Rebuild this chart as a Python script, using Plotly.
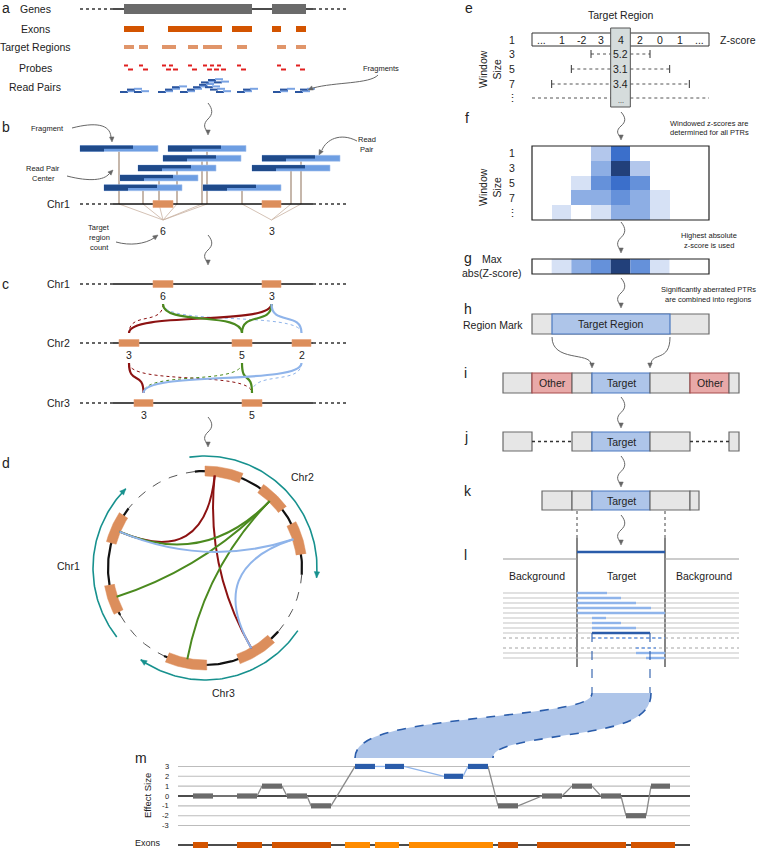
import numpy as np
import plotly.graph_objects as go

FONT = "Liberation Sans, Arial, Helvetica, sans-serif"
TXT = "#222222"

# ============================ DATA ============================
# panel a
ROW_LABELS_A = ["Genes", "Exons", "Target Regions", "Probes", "Read Pairs"]
GENE_BLOCKS = [(124, 252), (272, 306)]
EXONS_A = [(124, 144), (168, 222), (232, 252), (272, 281), (296, 306)]
TARGETS_A = [(124, 134), (139, 148), (162, 176), (188, 198), (203, 222), (237, 247), (277, 286), (296, 306)]
PROBES_A = [124, 139, 162, 169, 188, 203, 210, 217, 237, 277, 296]
READS_A_X = [120, 127, 134, 158, 165, 172, 180, 187, 193, 199, 205, 210, 216, 201, 208, 214, 237, 243, 273, 280, 295, 300]
READS_A_LVL = [0, 1, 0, 0, 1, 2, 0, 1, 2, 3, 2, 1, 0, 4, 5, 4, 0, 1, 0, 1, 0, 1]

# panel b
FRAG_B_X0 = [80, 168, 163, 262, 138, 252, 120, 104, 203]
FRAG_B_ROW = [0, 0, 1, 1, 2, 2, 3, 4, 4]
TARGETS_CHR1 = [(153, 173), (262, 281)]

# panel c
CHROMS = ["Chr1", "Chr2", "Chr3"]
TARGETS_C = {"Chr1": [(153, 173), (262, 281)],
             "Chr2": [(119, 139), (232, 252), (292, 311)],
             "Chr3": [(134, 153), (242, 262)]}
COUNTS_C = {"Chr1": [6, 3], "Chr2": [3, 5, 2], "Chr3": [3, 5]}
LINKS_C = [("Chr1", 0, "Chr2", 0, "red", "dot"), ("Chr1", 0, "Chr2", 2, "blue", "dot"),
           ("Chr1", 1, "Chr2", 0, "red", "solid"), ("Chr1", 0, "Chr2", 1, "green", "solid"),
           ("Chr1", 1, "Chr2", 1, "green", "solid"), ("Chr1", 1, "Chr2", 2, "blue", "solid"),
           ("Chr2", 0, "Chr3", 1, "red", "dot"), ("Chr2", 1, "Chr3", 0, "green", "dot"),
           ("Chr2", 2, "Chr3", 1, "blue", "dot"),
           ("Chr2", 0, "Chr3", 0, "red", "solid"), ("Chr2", 1, "Chr3", 1, "green", "solid"),
           ("Chr2", 2, "Chr3", 0, "blue", "solid")]

# panel d (angles in degrees)
CHR_ARCS_D = {"Chr1": (142, 209), "Chr2": (-4, 96), "Chr3": (245, 319)}
GAPS_D = [(96, 142), (209, 245), (319, 356)]
BOXES_D = [(68, 90), (37, 55), (8, 27), (147, 165), (190, 207), (247, 271), (290, 313)]
BOX_ANCHOR_D = [84, 46, 18, 157, 198, 259, 300]
LINKS_D = [(0, 3, "red"), (0, 6, "red"), (1, 3, "green"), (1, 4, "green"), (1, 5, "green"),
           (3, 2, "blue"), (2, 6, "blue")]
TEAL_ARCS_D = [(218, 135), (98, -5), (326, 235)]

# panel e
ZSCORES = ["...", "1", "-2", "3", "4", "2", "0", "1", "..."]
WINDOW_LABELS = ["1", "3", "5", "7", "\u22ee"]
WINDOW_SIZES = [3, 5, 7]
WINDOW_Z = ["5.2", "3.1", "3.4", "..."]

# panel f (binned absolute windowed z-score levels, rows = window sizes)
HEAT_F = [[0, 0, 0, 2, 5, 0, 0, 0, 0],
          [0, 0, 0, 3, 6, 2, 0, 0, 0],
          [0, 0, 1, 4, 5, 4, 0, 0, 0],
          [0, 0, 3, 3, 4, 3, 1, 0, 0],
          [0, 1, 0, 1, 3, 3, 1, 0, 0]]
HEAT_COLORS = ["#ffffff", "#d6e1f5", "#b3c7ec", "#8daee4", "#6591da", "#3b6fcb", "#22407a"]

# panel l
L_ROWS_Y = [593, 598, 603, 608, 613, 618, 623, 628, 633, 638, 648, 653, 658]
L_ROWS_DOT = [0, 0, 0, 0, 0, 0, 0, 0, 0, 1, 1, 0, 0]
L_BLUE = [(577, 607, "l"), (577, 621, "l"), (577, 636, "l"), (577, 651, "l"), (577, 665, "l"),
          (592, 606, "l"), (592, 621, "l"), (592, 636, "l"), (592, 650, "d"), (592, 665, "dot"),
          (636, 656, "dot"), (636, 665, "l"), (646, 665, "l")]

# panel m
SEG_START = [193, 237, 262, 287, 311, 355, 385, 444, 468, 498, 542, 572, 601, 626, 651]
SEG_END = [213, 257, 282, 307, 331, 375, 404, 463, 488, 518, 562, 592, 621, 646, 670]
EFFECT = [0, 0, 1, 0, -1, 3, 3, 2, 3, -1, 0, 1, 0, -2, 1]
SIGNIF = [0, 0, 0, 0, 0, 1, 1, 1, 1, 0, 0, 0, 0, 0, 0]
EFFECT_TICKS = [3, 2, 1, 0, -1, -2, -3]
EXONS_M = [(193, 208, 0), (237, 262, 0), (272, 331, 0), (345, 370, 1), (375, 399, 1),
           (409, 493, 1), (498, 518, 0), (537, 626, 0), (631, 675, 0)]

# ============================ HELPERS ============================
shapes, annos, traces = [], [], []
COL = {"red": "#8c1212", "green": "#4b8a1f", "blue": "#8fb4ea"}


def rect(x0, x1, y0, y1, fill, line=None, lw=0):
    shapes.append(dict(type="rect", x0=x0, x1=x1, y0=y0, y1=y1, fillcolor=fill,
                       line=dict(color=line or fill, width=lw)))


def seg(x0, y0, x1, y1, color, width=1.0, dash="solid"):
    shapes.append(dict(type="line", x0=x0, y0=y0, x1=x1, y1=y1,
                       line=dict(color=color, width=width, dash=dash)))


def path(d, color, width=1.0, dash="solid", fill=None):
    s = dict(type="path", path=d, line=dict(color=color, width=width, dash=dash))
    if fill:
        s["fillcolor"] = fill
    shapes.append(s)


def text(x, y, s, size=10.5, xa="center", ya="middle", color=TXT, angle=0):
    annos.append(dict(x=x, y=y, text=s, showarrow=False, xanchor=xa, yanchor=ya,
                      textangle=angle, font=dict(family=FONT, size=size, color=color)))


def head(xt, yt, dx, dy, size=5.0, color="#555555"):
    n = np.hypot(dx, dy)
    dx, dy = dx / n, dy / n
    bx, by = xt - dx * size, yt - dy * size
    px, py = -dy * size * 0.45, dx * size * 0.45
    path(f"M {xt},{yt} L {bx+px},{by+py} L {bx-px},{by-py} Z", color, 0.5, fill=color)


def wavy(x, y0, y1):
    h = y1 - y0
    path(f"M {x},{y0} C {x+5},{y0+0.2*h} {x+5},{y0+0.35*h} {x},{y0+0.5*h} "
         f"C {x-5},{y0+0.65*h} {x-4},{y0+0.8*h} {x},{y1-3}", "#666666", 1)
    head(x, y1, 0, 1, 5, "#666666")


def curved(d, tip, direction):
    path(d, "#666666", 1)
    head(tip[0], tip[1], direction[0], direction[1], 5, "#666666")


def polyline(xs, ys, color, width, dash="solid"):
    traces.append(go.Scatter(x=list(xs), y=list(ys), mode="lines", hoverinfo="skip",
                             line=dict(color=color, width=width, dash=dash)))


# ============================ PANEL LETTERS ============================
for lt, x, y in [("a", 0, 8), ("b", 0, 127), ("c", 0, 284), ("d", 0, 463), ("e", 463, 8),
                 ("f", 463, 118), ("g", 462, 258), ("h", 462, 309), ("i", 462, 373),
                 ("j", 462, 437), ("k", 462, 491), ("l", 462, 555), ("m", 133, 758)]:
    text(x, y, lt, 14, xa="left")

# ============================ PANEL a ============================
ROW_Y_A = [9, 29, 47, 68, 87]
for lab, y in zip(ROW_LABELS_A, ROW_Y_A):
    text(35, y, lab, 10.5)
seg(80, 9, 113, 9, "#333333", 1.3, "dot")
seg(113, 9, 313, 9, "#111111", 1.3)
seg(313, 9, 346, 9, "#333333", 1.3, "dot")
for a, b in GENE_BLOCKS:
    rect(a, b, 4, 14, "#6b6b6b")
for a, b in EXONS_A:
    rect(a, b, 26, 32, "#d35400")
for a, b in TARGETS_A:
    rect(a, b, 45, 49, "#e0956a")
for x in PROBES_A:
    rect(x, x + 4, 64.5, 66.5, "#e02020")
    rect(x + 4, x + 9, 68.5, 70.5, "#e02020")
for x, lv in zip(READS_A_X, READS_A_LVL):
    y = 92 - lv * 2.4
    rect(x, x + 8, y - 1, y + 1, "#2b56a0")
    rect(x + 7, x + 15, y - 1.8, y + 0.2, "#7aa3e3")
text(381, 68, "Fragments", 7.5)
curved("M 378,75 C 370,84 335,82 313,88", (308, 90), (-1, 0.45))

# ============================ PANEL b ============================
wavy(208, 103, 135)
text(47, 128, "Fragment", 7.5)
curved("M 72,128 C 95,122 110,124 111,137", (112, 142), (0.05, 1))
text(43, 168, "Read Pair", 7.5)
text(43, 178, "Center", 7.5)
curved("M 67,176 C 90,182 104,180 109,174", (113, 170), (0.8, -0.8))
text(367, 139, "Read", 7.5)
text(367, 149, "Pair", 7.5)
curved("M 357,141 C 340,132 326,140 322,150", (319, 155), (-0.5, 1))
text(99, 227, "Target", 7.5)
text(99, 237, "region", 7.5)
text(99, 247, "count", 7.5)
curved("M 116,242 C 130,246 145,244 154,238", (158, 235), (1, -0.7))

CHR1_Y_B = 204
tcent = [(a + b) / 2 for a, b in TARGETS_CHR1]
counts_b = [0] * len(TARGETS_CHR1)
frag_centers = []
for x0, r in zip(FRAG_B_X0, FRAG_B_ROW):
    y = 148.5 + r * 9.8
    cx = x0 + 39
    frag_centers.append(cx)
    seg(cx, y + 3, cx, CHR1_Y_B, "#b8a596", 1.6)
for cx in frag_centers:
    k = int(np.argmin([abs(cx - t) for t in tcent]))
    counts_b[k] += 1
    seg(cx, CHR1_Y_B, tcent[k], 220, "#c9b3a2", 0.8)
seg(80, CHR1_Y_B, 113, CHR1_Y_B, "#333333", 1.3, "dot")
seg(113, CHR1_Y_B, 313, CHR1_Y_B, "#111111", 1.5)
seg(313, CHR1_Y_B, 346, CHR1_Y_B, "#333333", 1.3, "dot")
for a, b in TARGETS_CHR1:
    rect(a, b, CHR1_Y_B - 3.5, CHR1_Y_B + 3.5, "#dc8e5c", "#eaa37a", 0.6)
for x0, r in zip(FRAG_B_X0, FRAG_B_ROW):
    y = 148.5 + r * 9.8
    rect(x0, x0 + 78, y - 3, y + 3, "#6e9ee2", "#a9c4ee", 0.6)
    rect(x0, x0 + 24, y - 3, y + 3, "#1f4a8a")
    rect(x0 + 24, x0 + 53, y - 3, y + 0.3, "#1f4a8a")
text(72, CHR1_Y_B, "Chr1", 10.5, xa="right")
for t, c in zip(tcent, counts_b):
    text(t, 231, str(c), 10.5)

# ============================ PANEL c ============================
wavy(208, 235, 265)
CHR_Y_C = {"Chr1": 284, "Chr2": 343, "Chr3": 403}
for ch in CHROMS:
    y = CHR_Y_C[ch]
    seg(80, y, 113, y, "#333333", 1.3, "dot")
    seg(113, y, 313, y, "#111111", 1.5)
    seg(313, y, 346, y, "#333333", 1.3, "dot")
    for (a, b), c in zip(TARGETS_C[ch], COUNTS_C[ch]):
        rect(a, b, y - 3.5, y + 3.5, "#dc8e5c", "#eaa37a", 0.6)
        text((a + b) / 2, y + 12, str(c), 10.5)
    text(72, y, ch, 10.5, xa="right")
for c1, i1, c2, i2, col, sty in LINKS_C:
    a, b = TARGETS_C[c1][i1]
    x1 = (a + b) / 2
    a, b = TARGETS_C[c2][i2]
    x2 = (a + b) / 2
    y1 = CHR_Y_C[c1] + 20
    y2 = CHR_Y_C[c2] - 10
    dy = y2 - y1
    d = f"M {x1},{y1} C {x1},{y1+0.75*dy} {x2},{y2-0.75*dy} {x2},{y2}"
    if sty == "dot":
        path(d, COL[col], 1.0, "dot")
    else:
        path(d, COL[col], 2.2)

# ============================ PANEL d ============================
wavy(208, 417, 447)
CX, CY, R = 205, 568, 97


def arcxy(a0, a1, r, n=80):
    th = np.radians(np.linspace(a0, a1, n))
    return CX + r * np.cos(th), CY - r * np.sin(th)


for a0, a1 in GAPS_D:
    xs, ys = arcxy(a0, a1, R)
    polyline(xs, ys, "#555555", 1, "dash")
for ch, (a0, a1) in CHR_ARCS_D.items():
    xs, ys = arcxy(a0, a1, R)
    polyline(xs, ys, "#111111", 2.2)
for (i, j, col) in LINKS_D:
    ta, tb = np.radians(BOX_ANCHOR_D[i]), np.radians(BOX_ANCHOR_D[j])
    r = R - 4
    x1, y1 = CX + r * np.cos(ta), CY - r * np.sin(ta)
    x2, y2 = CX + r * np.cos(tb), CY - r * np.sin(tb)
    path(f"M {x1:.1f},{y1:.1f} Q {CX},{CY} {x2:.1f},{y2:.1f}", COL[col], 2.0)
for a0, a1 in BOXES_D:
    xo, yo = arcxy(a0, a1, R + 5, 30)
    xi, yi = arcxy(a1, a0, R - 5, 30)
    traces.append(go.Scatter(x=list(xo) + list(xi), y=list(yo) + list(yi), mode="lines",
                             fill="toself", fillcolor="#dc8e5c", hoverinfo="skip",
                             line=dict(color="#dc8e5c", width=0.5)))
for a0, a1 in TEAL_ARCS_D:
    xs, ys = arcxy(a0, a1, 112)
    polyline(xs, ys, "#17918e", 1.6)
    head(xs[-1], ys[-1], xs[-1] - xs[-3], ys[-1] - ys[-3], 6, "#17918e")
text(302, 477, "Chr2", 10.5)
text(68, 566, "Chr1", 10.5)
text(223, 693, "Chr3", 10.5)

# ============================ PANEL e ============================
EX0, EX1 = 532, 709
CW = (EX1 - EX0) / 9
colx = [EX0 + CW * (i + 0.5) for i in range(9)]
text(621, 15, "Target Region", 10.5)
rect(EX0, EX1, 33, 46, "white", "#333333", 1)
rect(EX0 + 4 * CW, EX0 + 5 * CW, 28, 107, "#d5dcdc", "#555555", 1)
for x, z in zip(colx, ZSCORES):
    text(x, 39.5, z, 10.5)
text(738, 40, "Z-score", 10.5)
for lab, y in zip(WINDOW_LABELS, [40, 54, 69, 84, 98]):
    text(512, y, lab, 10.5)
text(490, 69, "Window<br>Size", 10.5, angle=-90)
for w, y, z in zip(WINDOW_SIZES, [54, 69, 84], WINDOW_Z):
    half = (w - 1) // 2
    xl = EX0 + (4 - half) * CW
    xr = EX0 + (5 + half) * CW
    seg(xl, y, EX0 + 4 * CW, y, "#555555", 1, "dot")
    seg(EX0 + 5 * CW, y, xr, y, "#555555", 1, "dot")
    seg(xl, y - 4, xl, y + 4, "#333333", 1)
    seg(xr, y - 4, xr, y + 4, "#333333", 1)
    text(colx[4], y, z, 10.5)
seg(EX0, 98, EX0 + 4 * CW, 98, "#555555", 1, "dot")
seg(EX0 + 5 * CW, 98, EX1, 98, "#555555", 1, "dot")
text(colx[4], 100, WINDOW_Z[3], 7)
wavy(621, 112, 140)

# ============================ PANEL f ============================
text(709, 123, "Windowed z-scores are", 7.5)
text(709, 132, "determined for all PTRs", 7.5)
F_Y0, F_Y1 = 146, 220
RH = (F_Y1 - F_Y0) / 5
rowy = [F_Y0 + RH * (i + 0.5) for i in range(5)]
cscale = [[i / 6, c] for i, c in enumerate(HEAT_COLORS)]
traces.append(go.Heatmap(z=HEAT_F, x=colx, y=rowy, colorscale=cscale, zmin=0, zmax=6,
                         showscale=False, hoverinfo="skip"))
rect(EX0, EX1, F_Y0, F_Y1, "rgba(0,0,0,0)", "#222222", 1.2)
for lab, y in zip(WINDOW_LABELS, rowy):
    text(512, y, lab, 10.5)
text(490, 187, "Window<br>Size", 10.5, angle=-90)
wavy(621, 222, 253)

# ============================ PANEL g ============================
text(709, 235, "Highest absolute", 7.5)
text(709, 245, "z-score is used", 7.5)
text(492, 259, "Max", 10.5)
text(492, 273, "abs(Z-score)", 10.5)
max_abs = [max(col) for col in zip(*HEAT_F)]
for i, v in enumerate(max_abs):
    rect(EX0 + i * CW, EX0 + (i + 1) * CW, 259, 274, HEAT_COLORS[v])
rect(EX0, EX1, 259, 274, "rgba(0,0,0,0)", "#222222", 1.2)
wavy(621, 278, 308)

# ============================ PANEL h ============================
text(708, 289, "Significantly aberrated PTRs", 7.5)
text(708, 299, "are combined into regions", 7.5)
text(493, 325, "Region Mark", 10.5)
GRAY, GRAYL = "#e6e6e6", "#6a6a6a"
BLUEF, BLUEL = "#aec5e9", "#4a78c0"
REDF, REDL = "#e8a9a8", "#a64d4d"
rect(EX0, EX1, 314, 334, GRAY, GRAYL, 1.2)
rect(552, 670, 314, 334, BLUEF, BLUEL, 1.2)
text(611, 324, "Target Region", 10.5)
curved("M 552,337 C 552,362 590,352 591,364", (592, 368), (0, 1))
curved("M 670,337 C 670,362 652,352 651,364", (650, 368), (0, 1))

# ============================ PANEL i / j / k ============================
IY0, IY1 = 373, 393
for a, b, f, l in [(503, 532, GRAY, GRAYL), (532, 572, REDF, REDL), (572, 592, GRAY, GRAYL),
                   (592, 650, BLUEF, BLUEL), (650, 690, GRAY, GRAYL), (690, 729, REDF, REDL),
                   (729, 739, GRAY, GRAYL)]:
    rect(a, b, IY0, IY1, f, l, 1.2)
text(552, 383, "Other", 10.5)
text(710, 383, "Other", 10.5)
text(621, 383, "Target", 10.5)
wavy(621, 397, 428)

JY0, JY1 = 432, 451
for a, b, f, l in [(503, 532, GRAY, GRAYL), (572, 592, GRAY, GRAYL), (592, 650, BLUEF, BLUEL),
                   (650, 690, GRAY, GRAYL), (729, 739, GRAY, GRAYL)]:
    rect(a, b, JY0, JY1, f, l, 1.2)
seg(532, 441.5, 572, 441.5, "#333333", 1.3, "dot")
seg(690, 441.5, 729, 441.5, "#333333", 1.3, "dot")
text(621, 442, "Target", 10.5)
wavy(621, 456, 487)

KY0, KY1 = 491, 510
for a, b, f, l in [(542, 572, GRAY, GRAYL), (572, 592, GRAY, GRAYL), (592, 650, BLUEF, BLUEL),
                   (650, 690, GRAY, GRAYL), (690, 699, GRAY, GRAYL)]:
    rect(a, b, KY0, KY1, f, l, 1.2)
text(621, 501, "Target", 10.5)
seg(577, 511, 577, 538, "#444444", 1, "dot")
seg(665, 511, 665, 538, "#444444", 1, "dot")
wavy(621, 515, 545)

# ============================ PANEL l ============================
seg(577, 538, 577, 667, "#333333", 1.2)
seg(665, 538, 665, 667, "#333333", 1.2)
seg(577, 552, 665, 552, "#2a5caa", 2.5)
seg(503, 559, 577, 559, "#999999", 1.2)
seg(665, 559, 739, 559, "#999999", 1.2)
text(537, 576, "Background", 10.5)
text(621, 576, "Target", 10.5)
text(704, 576, "Background", 10.5)
for y, dt in zip(L_ROWS_Y, L_ROWS_DOT):
    if dt:
        seg(503, y, 739, y, "#999999", 0.9, "dot")
    else:
        seg(503, y, 739, y, "#c3c3c3", 1.1)
for y, (a, b, st) in zip(L_ROWS_Y, L_BLUE):
    if st == "l":
        seg(a, y, b, y, "#8fb4ea", 2.4)
    elif st == "d":
        seg(a, y, b, y, "#2a5caa", 2.4)
    else:
        seg(a, y, b, y, "#6f9de6", 1.6, "dot")

# ============================ PANEL m ============================
path("M 592,693 L 651,693 C 651,720 620,727 567,735 C 515,743 493,747 493,758 "
     "L 355,758 C 355,735 400,727 480,718 C 560,709 592,705 592,693 Z",
     "rgba(0,0,0,0)", 0, fill="#aec5e9")
path("M 355,758 C 355,735 400,727 480,718 C 560,709 592,705 592,693", "#2a5caa", 1.6, "dash")
path("M 651,693 C 651,720 620,727 567,735 C 515,743 493,747 493,758", "#2a5caa", 1.6, "dash")
seg(592, 633, 592, 693, "#2a5caa", 1.1, "dash")
seg(650, 633, 650, 693, "#2a5caa", 1.1, "dash")


def ym(v):
    return 796 - v * 9.85


for t in EFFECT_TICKS:
    if t == 0:
        seg(178, ym(t), 690, ym(t), "#111111", 1.3)
    else:
        seg(178, ym(t), 690, ym(t), "#bcbcbc", 1.1)
    text(171, ym(t), str(t), 7.5, xa="right")
text(147, 796, "Effect Size", 9.5, angle=-90)
for i in range(len(EFFECT) - 1):
    c = "#8fb4ea" if (SIGNIF[i] and SIGNIF[i + 1]) else "#888888"
    seg(SEG_END[i], ym(EFFECT[i]), SEG_START[i + 1], ym(EFFECT[i + 1]), c, 1.3)
for a, b, v, s in zip(SEG_START, SEG_END, EFFECT, SIGNIF):
    rect(a, b, ym(v) - 2.6, ym(v) + 2.6, "#2a5caa" if s else "#6b6b6b")
text(148, 843, "Exons", 9)
seg(178, 845, 690, 845, "#111111", 1.5)
for a, b, k in EXONS_M:
    rect(a, b, 842, 848, "#ff8c00" if k else "#d35400")

# ============================ FIGURE ============================
fig = go.Figure(data=traces)
fig.update_layout(
    width=758, height=849, margin=dict(l=0, r=0, t=0, b=0),
    paper_bgcolor="white", plot_bgcolor="white", showlegend=False,
    xaxis=dict(range=[0, 758], visible=False, fixedrange=True),
    yaxis=dict(range=[849, 0], visible=False, fixedrange=True),
    shapes=shapes, annotations=annos,
)
fig.write_html("out.html", config={"displayModeBar": False})

# remove the browser's default page margin so the figure fills the window exactly
with open("out.html", "r", encoding="utf-8") as fh:
    html = fh.read()
html = html.replace("<head>", "<head><style>html,body{margin:0;padding:0;overflow:hidden;}</style>", 1)
with open("out.html", "w", encoding="utf-8") as fh:
    fh.write(html)
